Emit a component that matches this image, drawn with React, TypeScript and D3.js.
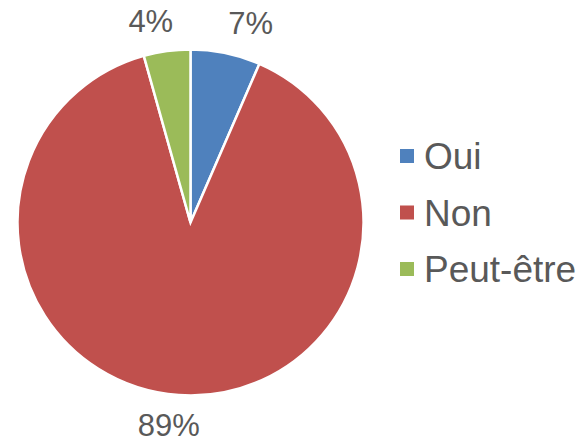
import React from "react";
import * as d3 from "d3";

const categories = ["Oui", "Non", "Peut-être"];
const counts = [3, 41, 2];
const percentLabels = ["7%", "89%", "4%"];
const colors = ["#4F81BD", "#C0504D", "#9BBB59"];

export default function App() {
  const width = 581;
  const height = 443;
  const cx = 190.5;
  const cy = 222.5;
  const radius = 173;
  const labelR = 186;

  const pie = d3.pie<number>().sort(null).value((d) => d);
  const arcs = pie(counts);
  const arcGen = d3.arc<d3.PieArcDatum<number>>().innerRadius(0).outerRadius(radius);

  const legendY = d3.scalePoint<string>().domain(categories).range([169, 282]);

  return (
    <svg
      width={width}
      height={height}
      style={{ position: "absolute", left: 0, top: 0, background: "#fff" }}
      fontFamily="'Liberation Sans', Arial, sans-serif"
    >
      <g transform={`translate(${cx},${cy})`}>
        {arcs.map((a, i) => (
          <path key={i} d={arcGen(a) || ""} fill={colors[i]} stroke="#fff" strokeWidth={2.5} strokeLinejoin="miter" />
        ))}
        {arcs.map((a, i) => {
          const mid = (a.startAngle + a.endAngle) / 2;
          const s = Math.sin(mid);
          const c = Math.cos(mid);
          const px = s * labelR;
          const py = -c * labelR;
          const anchor = s > 0.1 ? "start" : s < -0.1 ? "end" : "middle";
          const top = c > 0;
          return (
            <text
              key={i}
              x={px + (anchor === "end" ? 8 : anchor === "middle" ? -9 : 0)}
              y={top ? py - 6 : py + 28}
              textAnchor={anchor}
              fontSize={31}
              fill="#595959"
            >
              {percentLabels[i]}
            </text>
          );
        })}
      </g>
      <g>
        {categories.map((cat, i) => {
          const y = legendY(cat) as number;
          return (
            <g key={cat}>
              <rect x={400} y={y - 20} width={14} height={14} fill={colors[i]} />
              <text x={424} y={y} fontSize={37} fill="#595959">
                {cat}
              </text>
            </g>
          );
        })}
      </g>
    </svg>
  );
}
